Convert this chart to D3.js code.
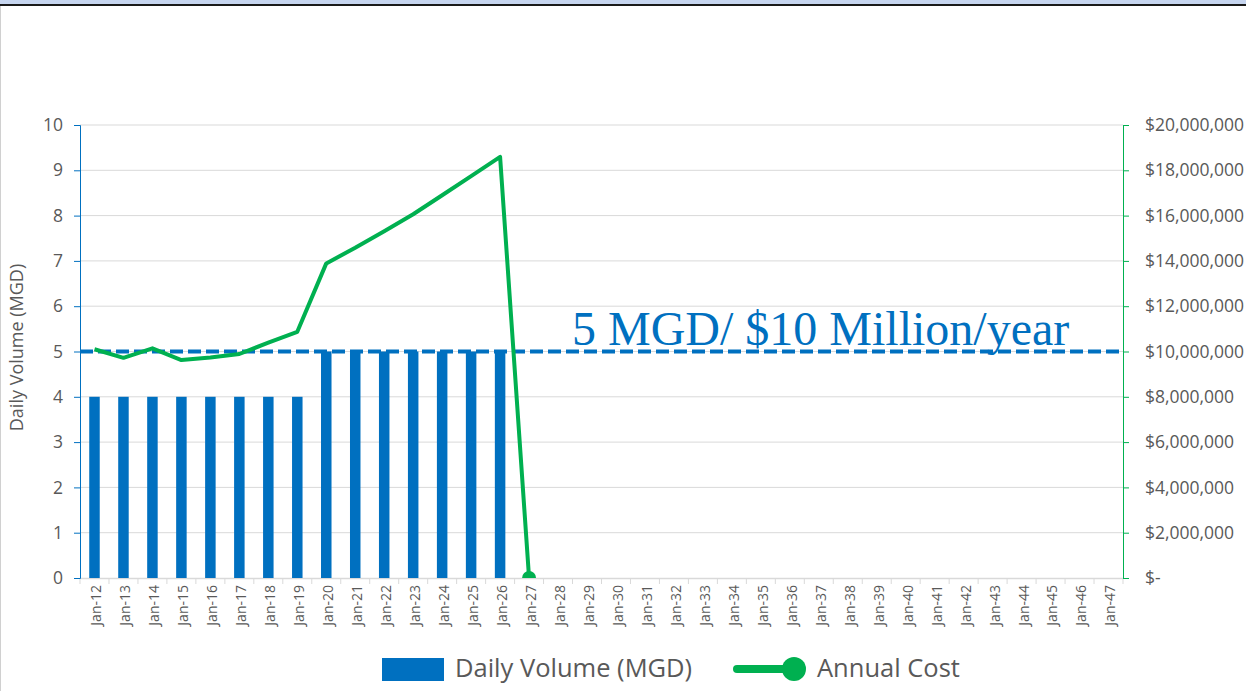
<!DOCTYPE html>
<html>
<head>
<meta charset="utf-8">
<script src="https://cdn.jsdelivr.net/npm/d3@7"></script>
<style>
  body { margin: 0; background: #fff; }
  svg { display: block; font-family: "Open Sans", sans-serif; }
</style>
</head>
<body>
<div id="chart-area"></div>
<script>
// categories Jan-12 .. Jan-47
var years = d3.range(12, 48);
var months = years.map(function(y) { return "Jan-" + y; });

// Daily Volume (MGD), only first 15 years have bars
var volume = [4, 4, 4, 4, 4, 4, 4, 4, 5, 5, 5, 5, 5, 5, 5];

// Annual Cost ($)
var cost = [10100000, 9720000, 10140000, 9620000, 9740000, 9890000, 10390000, 10870000,
            13890000, 14580000, 15310000, 16060000, 16900000, 17740000, 18590000, 0];

var leftTicks = d3.range(0, 11);
var rightTicks = d3.range(0, 20000001, 2000000);
var targetVolume = 5;
var targetLabel = "5 MGD/ $10 Million/year";

var W = 1246, H = 691;
var margin = { left: 80, right: 123, top: 125, bottom: 113 };
var width = W - margin.left - margin.right,
    height = H - margin.top - margin.bottom;

var blue = "#0070C0", green = "#00B050", textGrey = "#595959", grid = "#d9d9d9";

var svg = d3.select("#chart-area")
  .append("svg")
    .attr("width", W)
    .attr("height", H);

// window frame
svg.append("rect").attr("x", 0).attr("y", 0).attr("width", W).attr("height", 4).attr("fill", "#c6d5ef");
svg.append("rect").attr("x", 0).attr("y", 4).attr("width", W).attr("height", 2).attr("fill", "#1a1a1a");
svg.append("rect").attr("x", 0).attr("y", 6).attr("width", 1).attr("height", H).attr("fill", "#d0d0d0");

var g = svg.append("g")
  .attr("transform", "translate(" + margin.left + "," + margin.top + ")");

var x = d3.scaleBand().domain(months).range([0, width]);
var y = d3.scaleLinear().domain([0, 10]).range([height, 0]);
var y2 = d3.scaleLinear().domain([0, 20000000]).range([height, 0]);

g.append("clipPath").attr("id", "plot-clip")
  .append("rect").attr("width", width).attr("height", height);

// gridlines
g.append("g")
  .selectAll("line")
  .data(leftTicks.filter(function(d) { return d > 0; }))
  .enter().append("line")
    .attr("x1", 0).attr("x2", width)
    .attr("y1", function(d) { return y(d); })
    .attr("y2", function(d) { return y(d); })
    .attr("stroke", grid).attr("stroke-width", 1);

// X axis
var xAxisGroup = g.append("g")
  .attr("transform", "translate(0," + height + ")")
  .call(d3.axisBottom(x).tickSize(0).tickFormat(""));
xAxisGroup.select(".domain").attr("stroke", grid).attr("stroke-width", 1.5);

// ticks between categories
xAxisGroup.selectAll(".sep")
  .data(months.concat(["end"]))
  .enter().append("line")
    .attr("x1", function(d, i) { return i * x.step(); })
    .attr("x2", function(d, i) { return i * x.step(); })
    .attr("y1", 0).attr("y2", 6)
    .attr("stroke", grid);

g.append("g")
  .selectAll("text")
  .data(months)
  .enter().append("text")
    .attr("transform", function(d) {
      return "translate(" + (x(d) + x.bandwidth() / 2 + 2) + "," + (height + 7) + ") rotate(-90)";
    })
    .attr("text-anchor", "end")
    .attr("dy", "0.35em")
    .attr("font-size", "14px")
    .attr("fill", textGrey)
    .text(function(d) { return d; });

// Left axis
var yAxisGroup = g.append("g")
  .call(d3.axisLeft(y).tickValues(leftTicks).tickSize(6).tickPadding(11));
yAxisGroup.select(".domain").attr("stroke", blue);
yAxisGroup.selectAll(".tick line").attr("stroke", blue);
yAxisGroup.selectAll("text").attr("font-size", "17.5px").attr("fill", textGrey)
  .attr("font-family", "Open Sans, sans-serif");

// Right axis
var y2AxisGroup = g.append("g")
  .attr("transform", "translate(" + width + ",0)")
  .call(d3.axisRight(y2).tickValues(rightTicks).tickSize(6).tickPadding(16)
    .tickFormat(function(d) { return d === 0 ? "$-" : "$" + d3.format(",")(d); }));
y2AxisGroup.select(".domain").attr("stroke", green);
y2AxisGroup.selectAll(".tick line").attr("stroke", green);
y2AxisGroup.selectAll("text").attr("font-size", "17.5px").attr("fill", textGrey)
  .attr("font-family", "Open Sans, sans-serif");

// Y label
g.append("text")
  .attr("x", -(height / 2) + 4)
  .attr("y", -57)
  .attr("font-size", "18px")
  .attr("text-anchor", "middle")
  .attr("fill", textGrey)
  .attr("transform", "rotate(-90)")
  .text("Daily Volume (MGD)");

// Bars
var barW = 10.5;
g.append("g")
  .selectAll("rect")
  .data(volume)
  .enter().append("rect")
    .attr("x", function(d, i) { return x(months[i]) + x.bandwidth() / 2 - barW / 2; })
    .attr("y", function(d) { return y(d); })
    .attr("width", barW)
    .attr("height", function(d) { return height - y(d); })
    .attr("fill", blue);

// Target dashed line
g.append("line")
  .attr("x1", 0).attr("x2", width)
  .attr("y1", y(targetVolume)).attr("y2", y(targetVolume))
  .attr("stroke", blue)
  .attr("stroke-width", 4)
  .attr("stroke-dasharray", "13,5");

g.append("text")
  .attr("x", 492)
  .attr("y", y(targetVolume) - 7)
  .attr("font-family", "Liberation Serif, Times New Roman, serif")
  .attr("font-size", "48px")
  .attr("fill", blue)
  .text(targetLabel);

// Cost line
var line = d3.line()
  .x(function(d, i) { return x(months[i]) + x.bandwidth() / 2; })
  .y(function(d) { return y2(d); });

var costG = g.append("g").attr("clip-path", "url(#plot-clip)");
costG.append("path")
  .datum(cost)
  .attr("d", line)
  .attr("fill", "none")
  .attr("stroke", green)
  .attr("stroke-width", 4)
  .attr("stroke-linejoin", "round");

costG.append("circle")
  .attr("cx", x(months[cost.length - 1]) + x.bandwidth() / 2)
  .attr("cy", y2(cost[cost.length - 1]))
  .attr("r", 7)
  .attr("fill", green);

// Legend
var legend = svg.append("g").attr("transform", "translate(0,668)");
legend.append("rect")
  .attr("x", 382).attr("y", -10).attr("width", 62).attr("height", 23)
  .attr("fill", blue);
legend.append("text")
  .attr("x", 455).attr("y", 0).attr("dy", "0.35em")
  .attr("font-size", "25.5px").attr("fill", textGrey)
  .text("Daily Volume (MGD)");
legend.append("line")
  .attr("x1", 737).attr("x2", 795).attr("y1", 1).attr("y2", 1)
  .attr("stroke", green).attr("stroke-width", 8).attr("stroke-linecap", "round");
legend.append("circle")
  .attr("cx", 794).attr("cy", 1).attr("r", 12)
  .attr("fill", green);
legend.append("text")
  .attr("x", 817).attr("y", 0).attr("dy", "0.35em")
  .attr("font-size", "25.5px").attr("fill", textGrey)
  .text("Annual Cost");
</script>
</body>
</html>
